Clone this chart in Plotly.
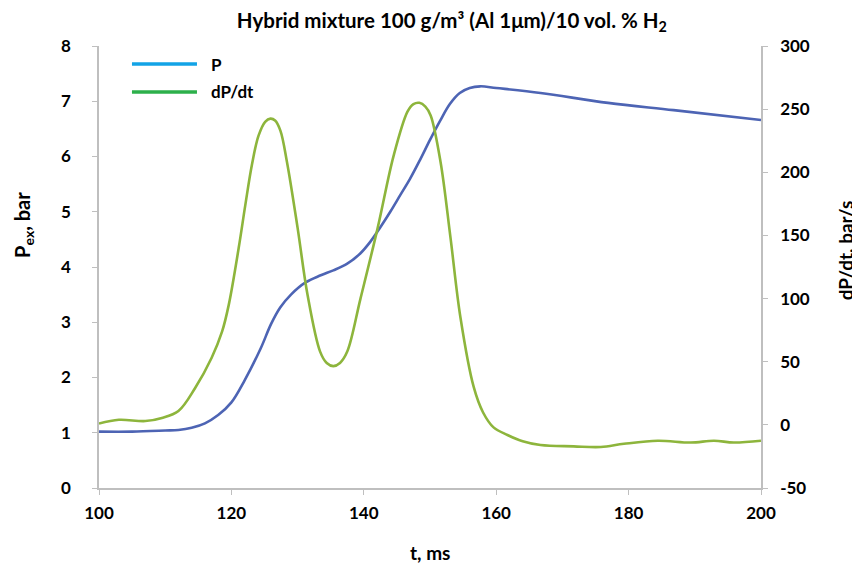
import plotly.graph_objects as go

# Pressure curve (left axis)
t_p = [100, 105, 110, 112, 114, 116, 118, 120, 122, 124.4, 126, 127.4, 129, 131.2,
       133.5, 135.4, 137.5, 139.5, 141, 142.5, 144, 145.5, 147, 148.5, 150, 151.5,
       153, 154.5, 156, 157.6, 160, 166.7, 176.9, 186.8, 200]
p_vals = [1.02, 1.02, 1.04, 1.05, 1.09, 1.17, 1.32, 1.55, 1.95, 2.52, 2.97, 3.27, 3.5, 3.72,
          3.85, 3.94, 4.06, 4.25, 4.46, 4.72, 5.0, 5.3, 5.6, 5.94, 6.3, 6.64,
          6.95, 7.15, 7.24, 7.27, 7.24, 7.15, 6.97, 6.84, 6.66]

# Rate of pressure rise (right axis)
t_d = [100, 103, 107, 109.5, 112, 114.5, 117, 118.6, 119.6, 121.1, 122.1, 123.1, 124.1,
       125.1, 125.9, 126.6, 127.4, 128.4, 130, 131.5, 133.4, 134.4, 135.4, 136.4, 137.5,
       139.5, 142.1, 144.5, 146.6, 147.5, 148.4, 149.3, 150.1, 151.6, 153.1, 154.6,
       156.6, 158, 159.6, 161.7, 164, 166.7, 171.7, 175.8, 179.3, 184.4, 189.4, 192.9,
       195.9, 200]
dp_vals = [1, 4, 3, 5.5, 11, 29, 53, 74, 95, 140, 174, 206, 229,
           240, 242.5, 241, 233, 208, 156, 103, 58, 49, 46.5, 49, 58,
           100, 156, 213, 248, 254, 255, 252, 245, 208, 148, 85,
           30, 10, -2, -8, -13, -16, -17, -17.5, -15, -12.6, -14, -12.6,
           -14, -12.6]

x_ticks = [100, 120, 140, 160, 180, 200]
left_ticks = [0, 1, 2, 3, 4, 5, 6, 7, 8]
right_ticks = [-50, 0, 50, 100, 150, 200, 250, 300]

title_text = "Hybrid mixture 100 g/m³ (Al 1μm)/10 vol. % H<sub>2</sub>"
legend_names = ["P", "dP/dt"]
x_title = "t, ms"
y_title = "P<sub>ex</sub>, bar"
y2_title = "dP/dt, bar/s"

FONT = "Lato"
AX = "#bfbfbf"

fig = go.Figure()
fig.add_trace(go.Scatter(x=t_p, y=p_vals, mode="lines", name="P",
                         line=dict(color="#4d64b4", width=2.6, shape="spline", smoothing=1.0),
                         showlegend=False, yaxis="y"))
fig.add_trace(go.Scatter(x=t_d, y=dp_vals, mode="lines", name="dP/dt",
                         line=dict(color="#8db53c", width=2.6, shape="spline", smoothing=1.0),
                         showlegend=False, yaxis="y2"))

# legend drawn as in the original (long sample lines)
leg_colors = ["#12a3e6", "#2db04b"]
leg_y = [0.959, 0.896]
for name, col, yy in zip(legend_names, leg_colors, leg_y):
    fig.add_shape(type="line", xref="paper", yref="paper", x0=0.0498, x1=0.148,
                  y0=yy, y1=yy, line=dict(color=col, width=3.5))
    fig.add_annotation(xref="paper", yref="paper", x=0.166, y=yy, text="<b>%s</b>" % name,
                       showarrow=False, xanchor="left", yanchor="middle",
                       font=dict(family=FONT, size=17, color="black"))

# axis titles
tfont = dict(family=FONT, size=19, color="black")
fig.add_annotation(xref="paper", yref="paper", x=0.5, y=-0.145, text="<b>%s</b>" % x_title,
                   showarrow=False, xanchor="center", yanchor="middle", font=tfont)
fig.add_annotation(xref="paper", yref="paper", x=-0.115, y=0.595, text="<b>%s</b>" % y_title,
                   showarrow=False, xanchor="center", yanchor="middle", textangle=-90,
                   font=dict(family=FONT, size=20, color="black"))
fig.add_annotation(xref="paper", yref="paper", x=1.127, y=0.538, text="<b>%s</b>" % y2_title,
                   showarrow=False, xanchor="center", yanchor="middle", textangle=-90, font=tfont)

axis_common = dict(showline=True, linecolor=AX, linewidth=1.5, ticks="outside",
                   tickcolor=AX, ticklen=5, tickwidth=1.2, showgrid=False, zeroline=False,
                   automargin=False,
                   tickfont=dict(family=FONT, size=17, color="black"))

# page body has an 8px margin, so the figure is sized to fit inside the window
fig.update_layout(
    width=852, height=562,
    margin=dict(l=91, r=99, t=38, b=82, autoexpand=False),
    paper_bgcolor="white", plot_bgcolor="white",
    title=dict(text="<b>" + title_text + "</b>", x=0.521, xanchor="center",
               y=0.99, yanchor="top",
               font=dict(family=FONT, size=20.5, color="black")),
    xaxis=dict(range=[100, 200], tickvals=x_ticks, ticktext=[f"<b>{v}</b>" for v in x_ticks],
               ticklabelstandoff=4, **axis_common),
    yaxis=dict(range=[0, 8], tickvals=left_ticks, ticktext=[f"<b>{v}</b>" for v in left_ticks],
               ticklabelstandoff=18, **axis_common),
    yaxis2=dict(range=[-50, 300], tickvals=right_ticks, ticktext=[f"<b>{v}</b>" for v in right_ticks],
                overlaying="y", side="right", ticklabelstandoff=9, **axis_common),
    showlegend=False,
)

fig.write_html("out.html")
